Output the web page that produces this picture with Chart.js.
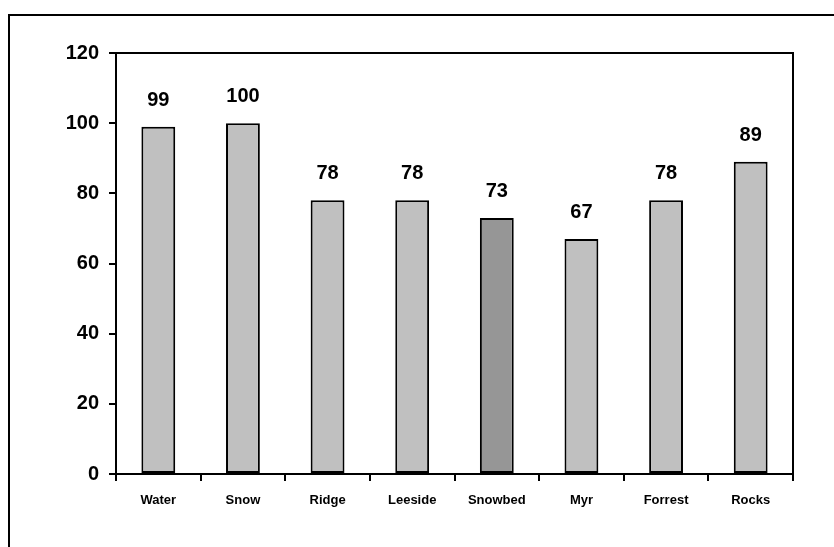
<!DOCTYPE html>
<html>
<head>
<meta charset="utf-8">
<script src="https://cdn.jsdelivr.net/npm/chart.js@4/dist/chart.umd.min.js"></script>
<style>
  html, body { margin: 0; padding: 0; background: #fff; }
  canvas { display: block; }
</style>
</head>
<body>
<canvas id="habitatChart" width="834" height="547"></canvas>
<script>
// Data
const categories = ['Water', 'Snow', 'Ridge', 'Leeside', 'Snowbed', 'Myr', 'Forrest', 'Rocks'];
const values = [99, 100, 78, 78, 73, 67, 78, 89];
const yTicks = [0, 20, 40, 60, 80, 100, 120];

const barColors = categories.map(c => c === 'Snowbed' ? '#969696' : '#c0c0c0');

// Outer frame (only top and left edges show inside the window)
const outerFrame = {
    id: 'outerFrame',
    beforeDraw(chart) {
        const ctx = chart.ctx;
        ctx.save();
        ctx.strokeStyle = '#000';
        ctx.lineWidth = 2;
        ctx.beginPath();
        ctx.moveTo(9, 547);
        ctx.lineTo(9, 15);
        ctx.lineTo(834, 15);
        ctx.stroke();
        ctx.restore();
    }
};

// Plot box border and value labels
const plotBox = {
    id: 'plotBox',
    afterDraw(chart) {
        const ctx = chart.ctx;
        const a = chart.chartArea;
        ctx.save();
        ctx.strokeStyle = '#000';
        ctx.lineWidth = 2;
        ctx.beginPath();
        ctx.moveTo(a.left, a.top);
        ctx.lineTo(a.right, a.top);
        ctx.lineTo(a.right, a.bottom);
        ctx.stroke();

        ctx.fillStyle = '#000';
        ctx.font = 'bold 20px "Liberation Sans", Arial, sans-serif';
        ctx.textAlign = 'center';
        ctx.textBaseline = 'alphabetic';
        chart.getDatasetMeta(0).data.forEach((bar, i) => {
            ctx.fillText(String(values[i]), bar.x, bar.y - 21);
        });
        ctx.restore();
    }
};

new Chart(document.getElementById('habitatChart').getContext('2d'), {
    type: 'bar',
    data: {
        labels: categories,
        datasets: [{
            data: values,
            backgroundColor: barColors,
            borderColor: '#000',
            borderWidth: 2,
            borderSkipped: false,
            categoryPercentage: 1.0,
            barPercentage: 0.40
        }]
    },
    options: {
        responsive: false,
        animation: false,
        layout: {
            padding: { left: 0, top: 53, right: 41, bottom: 0 }
        },
        plugins: {
            legend: { display: false },
            tooltip: { enabled: false }
        },
        scales: {
            x: {
                grid: {
                    offset: true,
                    drawOnChartArea: false,
                    drawTicks: true,
                    tickLength: 7,
                    color: '#000',
                    lineWidth: 2
                },
                border: { display: true, color: '#000', width: 2 },
                ticks: {
                    color: '#000',
                    padding: 12,
                    maxRotation: 0,
                    font: { family: '"Liberation Sans", Arial, sans-serif', size: 13, weight: 'bold' }
                },
                afterFit(scale) { scale.height = 73; }
            },
            y: {
                min: 0,
                max: 120,
                afterBuildTicks(scale) {
                    scale.ticks = yTicks.map(v => ({ value: v }));
                },
                grid: {
                    drawOnChartArea: false,
                    drawTicks: true,
                    tickLength: 7,
                    color: '#000',
                    lineWidth: 2
                },
                border: { display: true, color: '#000', width: 2 },
                ticks: {
                    color: '#000',
                    padding: 10,
                    font: { family: '"Liberation Sans", Arial, sans-serif', size: 20, weight: 'bold' }
                },
                afterFit(scale) { scale.width = 116; }
            }
        }
    },
    plugins: [outerFrame, plotBox]
});
</script>
</body>
</html>
